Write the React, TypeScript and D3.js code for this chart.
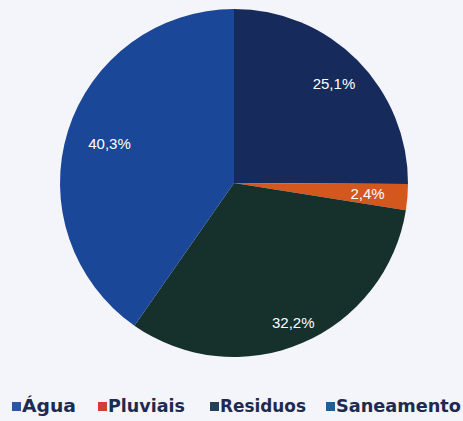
import React from "react";
import * as d3 from "d3";

const categories = ["Água", "Pluviais", "Residuos", "Saneamento"];
const values = [25.1, 2.4, 32.2, 40.3];
const labels = ["25,1%", "2,4%", "32,2%", "40,3%"];
const sliceColors = ["#172a5c", "#d4581e", "#16302b", "#1b4798"];
const legendColors = ["#2b55a6", "#d83c30", "#22405a", "#1f5f98"];

const W = 463;
const H = 421;
const CX = 234;
const CY = 183;
const R = 174;
const labelRadiusFactor = [0.81, 0.77, 0.87, 0.75];

export default function App() {
  const pie = d3
    .pie<number>()
    .sort(null)
    .value((d) => d)
    .startAngle(0)
    .endAngle(2 * Math.PI);
  const arcs = pie(values);
  const arc = d3.arc<d3.PieArcDatum<number>>().innerRadius(0).outerRadius(R);

  const legendX = [12, 98, 210, 326];
  const legendTextLen = [54, 77, 86, 125];

  return (
    <svg
      width={W}
      height={H}
      style={{ position: "absolute", left: 0, top: 0, background: "#f3f5fa" }}
    >
      <rect x={0} y={0} width={W} height={H} fill="#f3f5fa" />
      <g transform={`translate(${CX},${CY})`}>
        {arcs.map((a, i) => (
          <path key={i} d={arc(a) || ""} fill={sliceColors[i]} />
        ))}
        {arcs.map((a, i) => {
          const mid = (a.startAngle + a.endAngle) / 2;
          const rr = R * labelRadiusFactor[i];
          const x = Math.sin(mid) * rr;
          const y = -Math.cos(mid) * rr;
          return (
            <text
              key={i}
              x={x}
              y={y}
              textAnchor="middle"
              dominantBaseline="central"
              fill="#ffffff"
              fontFamily="Liberation Sans, Arial, sans-serif"
              fontSize={15}
            >
              {labels[i]}
            </text>
          );
        })}
      </g>
      <g>
        {categories.map((c, i) => (
          <g key={c}>
            <rect x={legendX[i]} y={402} width={9} height={9} fill={legendColors[i]} />
            <text
              x={legendX[i] + 10}
              y={412}
              fill="#1e2a50"
              fontFamily="DejaVu Sans, sans-serif"
              fontWeight="bold"
              fontSize={17}
              textLength={legendTextLen[i]}
              lengthAdjust="spacingAndGlyphs"
            >
              {c}
            </text>
          </g>
        ))}
      </g>
    </svg>
  );
}
